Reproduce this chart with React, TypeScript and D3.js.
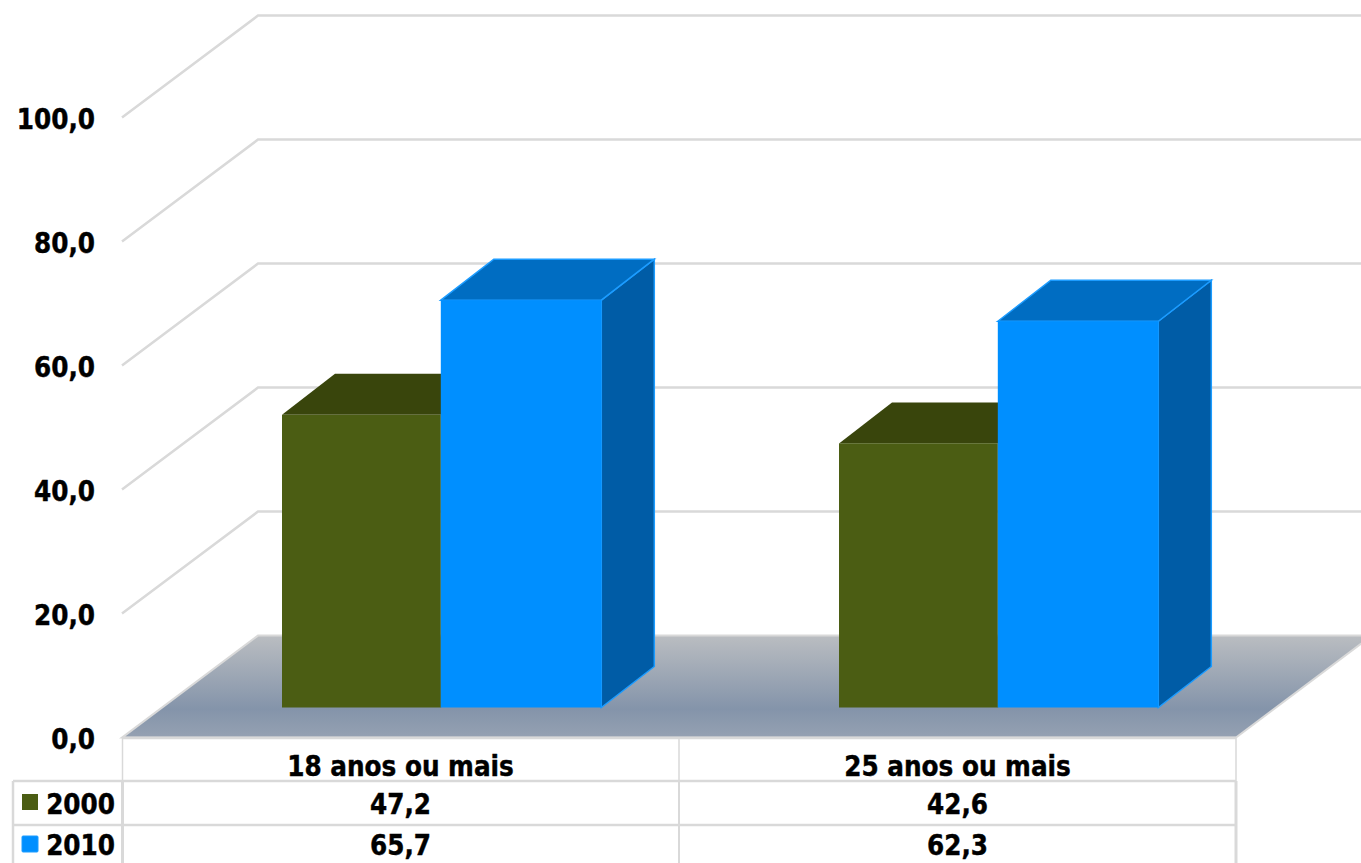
import React from "react";
import * as d3 from "d3";

const categories = ["18 anos ou mais", "25 anos ou mais"];
const seriesNames = ["2000", "2010"];
const values2000 = [47.2, 42.6];
const values2010 = [65.7, 62.3];
const ticks = [0, 20, 40, 60, 80, 100];
const fmt = (v: number) => v.toFixed(1).replace(".", ",");

const W = 1361, H = 863;
const FONT = "'DejaVu Sans Condensed', 'DejaVu Sans', Verdana, sans-serif";
const y = d3.scaleLinear().domain([0, 100]).range([0, -620]);
const tableX = d3.scaleBand<string>().domain(categories).range([122, 1236]);
const rowY = [738, 781, 825, 863];
const frontY = 737.6, backDX = 136, backDY = -102;
const barBase = 707.5, barDX = 53, barDY = -41;
const groupX = d3.scaleOrdinal<string, number>().domain(categories).range([282, 839]);
const barWidths = [158.8, 160.5];
const colors = [
  { front: "#4b5d13", top: "#39450c", side: "#39450c", edge: "none" },
  { front: "#008fff", top: "#006dc2", side: "#005ca6", edge: "#1c9cff" },
];
const grid = "#d9d9d9";

const pts = (p: number[][]) => p.map((d) => d.join(",")).join(" ");

function Bar({ x, w, v, c }: { x: number; w: number; v: number; c: (typeof colors)[0] }) {
  const t = barBase + y(v);
  return (
    <g>
      <polygon points={pts([[x + w, t], [x + w + barDX, t + barDY], [x + w + barDX, barBase + barDY], [x + w, barBase]])} fill={c.side} stroke={c.edge} strokeWidth={1.5} />
      <polygon points={pts([[x, t], [x + barDX, t + barDY], [x + w + barDX, t + barDY], [x + w, t]])} fill={c.top} stroke={c.edge} strokeWidth={1.5} />
      <rect x={x} y={t} width={w} height={barBase - t} fill={c.front} />
    </g>
  );
}

export default function App() {
  const txt = { fontFamily: FONT, fontWeight: 700, fill: "#000", stroke: "#000", strokeWidth: 0.4 } as const;
  const fs = 27.5;
  return (
    <svg width={W} height={H} style={{ position: "absolute", left: 0, top: 0 }}>
      <defs>
        <linearGradient id="floor" x1="0" y1="0" x2="0" y2="1">
          <stop offset="0" stopColor="#babdc1" />
          <stop offset="0.72" stopColor="#8494aa" />
          <stop offset="1" stopColor="#95a1b2" />
        </linearGradient>
      </defs>
      <rect width={W} height={H} fill="#fff" />
      {ticks.map((t) => {
        const fy = frontY + y(t);
        return (
          <g key={t}>
            {t > 0 && <polyline points={pts([[122, fy], [122 + backDX, fy + backDY], [W, fy + backDY]])} fill="none" stroke={grid} strokeWidth={2.5} />}
            <text x={95} y={fy + 11} textAnchor="end" fontSize={fs} {...txt}>{fmt(t)}</text>
          </g>
        );
      })}
      <polygon points={pts([[122, frontY], [122 + backDX, frontY + backDY], [1236 + backDX, frontY + backDY], [1236, frontY]])} fill="url(#floor)" stroke={grid} strokeWidth={2} />
      {categories.map((cat, i) => {
        const x0 = groupX(cat);
        return (
          <g key={cat}>
            <Bar x={x0} w={barWidths[0]} v={values2000[i]} c={colors[0]} />
            <Bar x={x0 + barWidths[0]} w={barWidths[1]} v={values2010[i]} c={colors[1]} />
          </g>
        );
      })}
      {/* data table */}
      <g stroke={grid} fill="none">
        <line x1={122} x2={1236} y1={rowY[0]} y2={rowY[0]} strokeWidth={2.5} />
        <line x1={13} x2={1236} y1={rowY[1]} y2={rowY[1]} strokeWidth={2.5} />
        <line x1={13} x2={1236} y1={rowY[2]} y2={rowY[2]} strokeWidth={2.5} />
        <line x1={13} x2={13} y1={rowY[1]} y2={rowY[3]} strokeWidth={2.5} />
        <line x1={122.5} x2={122.5} y1={rowY[0]} y2={rowY[1]} strokeWidth={1.5} />
        <line x1={122.5} x2={122.5} y1={rowY[1]} y2={rowY[3]} strokeWidth={3} />
        {categories.map((c, i) => {
          const lx = tableX(c)! + tableX.bandwidth();
          return (
            <g key={c}>
              <line x1={lx} x2={lx} y1={rowY[0]} y2={rowY[1]} strokeWidth={1.5} />
              <line x1={lx} x2={lx} y1={rowY[1]} y2={rowY[3]} strokeWidth={i ? 3 : 2} />
            </g>
          );
        })}
      </g>
      {categories.map((c, i) => {
        const cx = tableX(c)! + tableX.bandwidth() / 2;
        return (
          <g key={c} textAnchor="middle" fontSize={fs} {...txt}>
            <text x={cx} y={776}>{c}</text>
            <text x={cx} y={814}>{fmt(values2000[i])}</text>
            <text x={cx} y={855}>{fmt(values2010[i])}</text>
          </g>
        );
      })}
      {seriesNames.map((s, i) => {
        const base = i === 0 ? 814 : 855;
        return (
          <g key={s}>
            <rect x={22} y={i ? 836 : 794} width={16} height={16} fill={colors[i].front} stroke={i ? colors[i].edge : "none"} strokeWidth={1} rx={i ? 1 : 0} />
            <text x={115} y={base} textAnchor="end" fontSize={fs} {...txt}>{s}</text>
          </g>
        );
      })}
    </svg>
  );
}
